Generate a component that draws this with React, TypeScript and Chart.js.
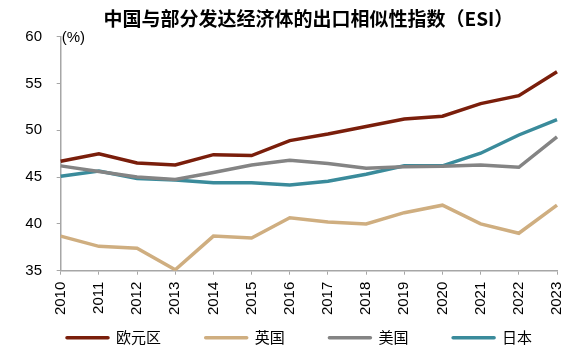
import React, { useEffect, useRef } from "react";
import { Chart, registerables } from "chart.js";

Chart.register(...registerables);

const years = ["2010","2011","2012","2013","2014","2015","2016","2017","2018","2019","2020","2021","2022","2023"];
const euro = [46.7, 47.5, 46.5, 46.3, 47.4, 47.3, 48.9, 49.6, 50.4, 51.2, 51.5, 52.85, 53.7, 56.25];
const uk = [38.7, 37.6, 37.4, 35.1, 38.7, 38.5, 40.65, 40.2, 40.0, 41.2, 42.0, 40.0, 39.0, 42.0];
const us = [46.2, 45.6, 45.0, 44.75, 45.5, 46.3, 46.8, 46.45, 45.95, 46.1, 46.15, 46.3, 46.05, 49.3];
const jp = [45.1, 45.65, 44.85, 44.7, 44.4, 44.4, 44.15, 44.55, 45.3, 46.2, 46.2, 47.55, 49.5, 51.15];
const seriesNames = ["欧元区", "英国", "美国", "日本"];
const yTicks = [35, 40, 45, 50, 55, 60];
const titleText = "中国与部分发达经济体的出口相似性指数（ESI）";
const unitText = "(%)";

const colors = ["#7A1E0B", "#CFAE80", "#848484", "#3A8B9B"];
const FONT = "'Liberation Sans', Arial, sans-serif";
const CJK = "'Noto Sans CJK SC', " + FONT;

const extrasPlugin = {
  id: "extras",
  afterDraw(chart: any) {
    const { ctx, chartArea } = chart;
    ctx.save();
    ctx.fillStyle = "#000";
    ctx.font = `bold 19px ${CJK}`;
    ctx.textAlign = "center";
    ctx.textBaseline = "middle";
    ctx.fillText(titleText, (chartArea.left + chartArea.right) / 2 - 0.5, 18.5);
    ctx.font = `15px ${FONT}`;
    ctx.textAlign = "left";
    ctx.fillText(unitText, chartArea.left + 1, chartArea.top + 1.5);

    // legend
    const boxW = 45;
    const gap = 6;
    const pad = 42.7;
    const yc = 337.7;
    let x = 65;
    ctx.font = `15px ${CJK}`;
    chart.data.datasets.forEach((ds: any) => {
      ctx.strokeStyle = ds.borderColor;
      ctx.lineWidth = 3.5;
      ctx.lineCap = "round";
      ctx.beginPath();
      ctx.moveTo(x + 2, yc);
      ctx.lineTo(x + boxW - 2, yc);
      ctx.stroke();
      ctx.fillStyle = "#000";
      ctx.fillText(ds.label, x + boxW + gap, yc);
      x += boxW + gap + ctx.measureText(ds.label).width + pad;
    });
    ctx.restore();
  },
};

export default function App() {
  const ref = useRef<HTMLCanvasElement | null>(null);
  useEffect(() => {
    if (!ref.current) return;
    const data = [euro, uk, us, jp];
    const chart = new Chart(ref.current, {
      type: "line",
      data: {
        labels: years,
        datasets: data.map((d, i) => ({
          label: seriesNames[i],
          data: d,
          borderColor: colors[i],
          backgroundColor: colors[i],
          borderWidth: 3.5,
          pointRadius: 0,
          tension: 0,
          fill: false,
        })),
      },
      options: {
        animation: false,
        responsive: true,
        maintainAspectRatio: false,
        layout: { padding: { left: 25.3, right: 27, top: 36.7, bottom: 0 } },
        plugins: {
          title: { display: false },
          legend: { display: false },
          tooltip: { enabled: false },
        },
        scales: {
          x: {
            afterFit(axis: any) {
              axis.height = 87.3;
            },
            grid: { display: true, drawOnChartArea: false, drawTicks: true, tickLength: 4, color: "#A6A6A6" },
            border: { color: "#A6A6A6", width: 1.5 },
            ticks: {
              minRotation: 90,
              maxRotation: 90,
              autoSkip: false,
              color: "#000",
              padding: 7,
              font: { size: 15, family: FONT },
            },
          },
          y: {
            min: 35,
            max: 60,
            afterBuildTicks(axis: any) {
              axis.ticks = yTicks.map((v) => ({ value: v }));
            },
            afterFit(axis: any) {
              axis.width = 35.4;
            },
            grid: { display: true, drawOnChartArea: false, drawTicks: true, tickLength: 4, color: "#A6A6A6" },
            border: { color: "#A6A6A6", width: 1.5 },
            ticks: {
              color: "#000",
              padding: 14.7,
              font: { size: 15, family: FONT },
            },
          },
        },
      },
      plugins: [extrasPlugin],
    });
    return () => chart.destroy();
  }, []);
  return (
    <div style={{ position: "fixed", left: 0, top: 0, width: 584, height: 358, background: "#fff" }}>
      <canvas ref={ref} />
    </div>
  );
}
